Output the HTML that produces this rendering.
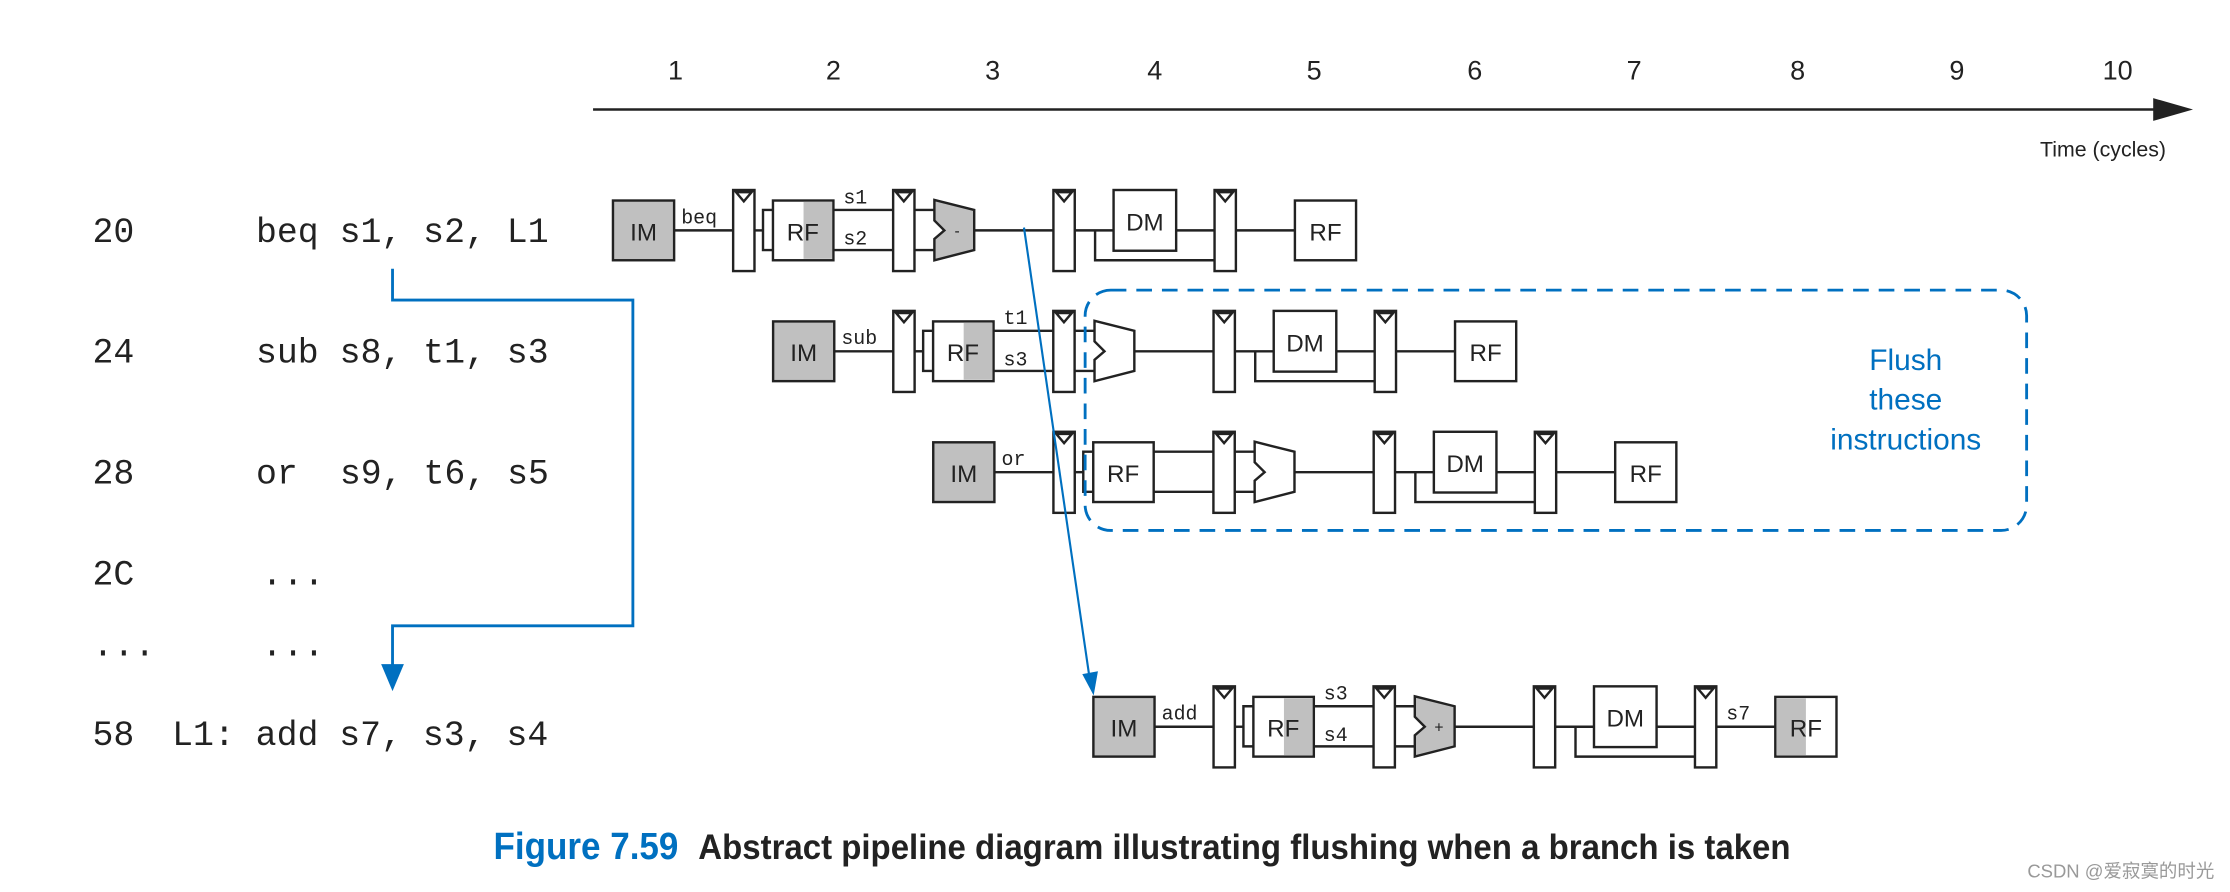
<!DOCTYPE html>
<html><head><meta charset="utf-8"><style>
html,body{margin:0;padding:0;background:#fff;}
svg{display:block;}
.m{font-family:"Liberation Mono",monospace;fill:#222;white-space:pre;}
.s{font-family:"Liberation Sans",sans-serif;fill:#222;}
.k{stroke:#222;stroke-width:1.7;fill:none;}
.w{stroke:#222;stroke-width:1.7;fill:#fff;}
.g{stroke:#222;stroke-width:1.7;fill:#c0c0c0;}
</style></head><body>
<svg width="2230" height="892" viewBox="0 0 1568 627.2" preserveAspectRatio="none" xmlns="http://www.w3.org/2000/svg">
<defs>
<g id="reg"><rect x="0" y="0" width="15" height="57" class="w"/><polygon points="2,1.5 13,1.5 7.5,8" class="w"/></g>
</defs>
<line x1="417" y1="77" x2="1520" y2="77" stroke="#222" stroke-width="1.8"/>
<polygon points="1514,69 1542,77 1514,85" fill="#222"/>
<g class="s" font-size="19" text-anchor="middle">
<text x="475" y="56">1</text><text x="586" y="56">2</text><text x="698" y="56">3</text><text x="812" y="56">4</text><text x="924" y="56">5</text><text x="1037" y="56">6</text><text x="1149" y="56">7</text><text x="1264" y="56">8</text><text x="1376" y="56">9</text><text x="1489" y="56">10</text>
</g>
<text x="1523" y="110" class="s" font-size="15" text-anchor="end">Time (cycles)</text>
<g class="m" font-size="24.5">
<text x="65" y="170">20</text><text x="180" y="170">beq s1, s2, L1</text>
<text x="65" y="255">24</text><text x="180" y="255">sub s8, t1, s3</text>
<text x="65" y="340">28</text><text x="180" y="340">or</text><text x="239" y="340">s9, t6, s5</text>
<text x="65" y="411">2C</text><text x="184" y="411">...</text>
<text x="65" y="461">...</text><text x="184" y="461">...</text>
<text x="65" y="524">58</text><text x="121" y="524">L1: add s7, s3, s4</text>
</g>
<g id="r1">
<rect x="431" y="141" width="43" height="42" class="g"/><text x="452.5" y="169" class="s" font-size="17" text-anchor="middle">IM</text>
<line x1="474" y1="162" x2="515.5" y2="162" class="k"/>
<use href="#reg" x="515.5" y="133.6"/>
<line x1="530.5" y1="162" x2="536.5" y2="162" class="k"/>
<polyline points="543.5,147.6 536.5,147.6 536.5,175.8 543.5,175.8" class="k"/>
<rect x="543.5" y="141" width="42.5" height="42" class="w"/><rect x="565" y="142" width="20" height="40" fill="#c0c0c0"/>
<text x="564.5" y="169" class="s" font-size="17" text-anchor="middle">RF</text>
<line x1="586" y1="147.6" x2="628" y2="147.6" class="k"/><line x1="586" y1="175.8" x2="628" y2="175.8" class="k"/>
<use href="#reg" x="628" y="133.6"/>
<line x1="643" y1="147.6" x2="657" y2="147.6" class="k"/><line x1="643" y1="175.8" x2="657" y2="175.8" class="k"/>
<polygon points="657,140.6 685,147.6 685,175.8 657,183 657,168 664,162 657,155" class="g"/>
<text x="673" y="166" class="s" font-size="11" text-anchor="middle">-</text>
<line x1="685" y1="162" x2="740.7" y2="162" class="k"/>
<use href="#reg" x="740.7" y="133.6"/>
<line x1="755.7" y1="162" x2="783" y2="162" class="k"/><polyline points="770,162 770,183 854,183" class="k"/>
<rect x="783" y="133.6" width="44" height="42.7" class="w"/><text x="805" y="162" class="s" font-size="17" text-anchor="middle">DM</text>
<line x1="827" y1="162" x2="854" y2="162" class="k"/>
<use href="#reg" x="854" y="133.6"/>
<line x1="869" y1="162" x2="910.5" y2="162" class="k"/>
<rect x="910.5" y="141" width="43" height="42" class="w"/><text x="932" y="169" class="s" font-size="17" text-anchor="middle">RF</text>
<g class="m" font-size="14"><text x="479" y="157">beq</text><text x="593" y="143">s1</text><text x="593" y="172">s2</text></g>
</g>
<g transform="translate(112.6,85)">
<rect x="431" y="141" width="43" height="42" class="g"/><text x="452.5" y="169" class="s" font-size="17" text-anchor="middle">IM</text>
<line x1="474" y1="162" x2="515.5" y2="162" class="k"/>
<use href="#reg" x="515.5" y="133.6"/>
<line x1="530.5" y1="162" x2="536.5" y2="162" class="k"/>
<polyline points="543.5,147.6 536.5,147.6 536.5,175.8 543.5,175.8" class="k"/>
<rect x="543.5" y="141" width="42.5" height="42" class="w"/><rect x="565" y="142" width="20" height="40" fill="#c0c0c0"/>
<text x="564.5" y="169" class="s" font-size="17" text-anchor="middle">RF</text>
<line x1="586" y1="147.6" x2="628" y2="147.6" class="k"/><line x1="586" y1="175.8" x2="628" y2="175.8" class="k"/>
<use href="#reg" x="628" y="133.6"/>
<line x1="643" y1="147.6" x2="657" y2="147.6" class="k"/><line x1="643" y1="175.8" x2="657" y2="175.8" class="k"/>
<polygon points="657,140.6 685,147.6 685,175.8 657,183 657,168 664,162 657,155" class="w"/>
<line x1="685" y1="162" x2="740.7" y2="162" class="k"/>
<use href="#reg" x="740.7" y="133.6"/>
<line x1="755.7" y1="162" x2="783" y2="162" class="k"/><polyline points="770,162 770,183 854,183" class="k"/>
<rect x="783" y="133.6" width="44" height="42.7" class="w"/><text x="805" y="162" class="s" font-size="17" text-anchor="middle">DM</text>
<line x1="827" y1="162" x2="854" y2="162" class="k"/>
<use href="#reg" x="854" y="133.6"/>
<line x1="869" y1="162" x2="910.5" y2="162" class="k"/>
<rect x="910.5" y="141" width="43" height="42" class="w"/><text x="932" y="169" class="s" font-size="17" text-anchor="middle">RF</text>
<g class="m" font-size="14"><text x="479" y="157">sub</text><text x="593" y="143">t1</text><text x="593" y="172">s3</text></g>
</g>
<g transform="translate(225.2,170)">
<rect x="431" y="141" width="43" height="42" class="g"/><text x="452.5" y="169" class="s" font-size="17" text-anchor="middle">IM</text>
<line x1="474" y1="162" x2="515.5" y2="162" class="k"/>
<use href="#reg" x="515.5" y="133.6"/>
<line x1="530.5" y1="162" x2="536.5" y2="162" class="k"/>
<polyline points="543.5,147.6 536.5,147.6 536.5,175.8 543.5,175.8" class="k"/>
<rect x="543.5" y="141" width="42.5" height="42" class="w"/>
<text x="564.5" y="169" class="s" font-size="17" text-anchor="middle">RF</text>
<line x1="586" y1="147.6" x2="628" y2="147.6" class="k"/><line x1="586" y1="175.8" x2="628" y2="175.8" class="k"/>
<use href="#reg" x="628" y="133.6"/>
<line x1="643" y1="147.6" x2="657" y2="147.6" class="k"/><line x1="643" y1="175.8" x2="657" y2="175.8" class="k"/>
<polygon points="657,140.6 685,147.6 685,175.8 657,183 657,168 664,162 657,155" class="w"/>
<line x1="685" y1="162" x2="740.7" y2="162" class="k"/>
<use href="#reg" x="740.7" y="133.6"/>
<line x1="755.7" y1="162" x2="783" y2="162" class="k"/><polyline points="770,162 770,183 854,183" class="k"/>
<rect x="783" y="133.6" width="44" height="42.7" class="w"/><text x="805" y="162" class="s" font-size="17" text-anchor="middle">DM</text>
<line x1="827" y1="162" x2="854" y2="162" class="k"/>
<use href="#reg" x="854" y="133.6"/>
<line x1="869" y1="162" x2="910.5" y2="162" class="k"/>
<rect x="910.5" y="141" width="43" height="42" class="w"/><text x="932" y="169" class="s" font-size="17" text-anchor="middle">RF</text>
<g class="m" font-size="14"><text x="479" y="157">or</text></g>
</g>
<g transform="translate(337.8,349)">
<rect x="431" y="141" width="43" height="42" class="g"/><text x="452.5" y="169" class="s" font-size="17" text-anchor="middle">IM</text>
<line x1="474" y1="162" x2="515.5" y2="162" class="k"/>
<use href="#reg" x="515.5" y="133.6"/>
<line x1="530.5" y1="162" x2="536.5" y2="162" class="k"/>
<polyline points="543.5,147.6 536.5,147.6 536.5,175.8 543.5,175.8" class="k"/>
<rect x="543.5" y="141" width="42.5" height="42" class="w"/><rect x="565" y="142" width="20" height="40" fill="#c0c0c0"/>
<text x="564.5" y="169" class="s" font-size="17" text-anchor="middle">RF</text>
<line x1="586" y1="147.6" x2="628" y2="147.6" class="k"/><line x1="586" y1="175.8" x2="628" y2="175.8" class="k"/>
<use href="#reg" x="628" y="133.6"/>
<line x1="643" y1="147.6" x2="657" y2="147.6" class="k"/><line x1="643" y1="175.8" x2="657" y2="175.8" class="k"/>
<polygon points="657,140.6 685,147.6 685,175.8 657,183 657,168 664,162 657,155" class="g"/>
<text x="674" y="166" class="s" font-size="11" text-anchor="middle">+</text>
<line x1="685" y1="162" x2="740.7" y2="162" class="k"/>
<use href="#reg" x="740.7" y="133.6"/>
<line x1="755.7" y1="162" x2="783" y2="162" class="k"/><polyline points="770,162 770,183 854,183" class="k"/>
<rect x="783" y="133.6" width="44" height="42.7" class="w"/><text x="805" y="162" class="s" font-size="17" text-anchor="middle">DM</text>
<line x1="827" y1="162" x2="854" y2="162" class="k"/>
<use href="#reg" x="854" y="133.6"/>
<line x1="869" y1="162" x2="910.5" y2="162" class="k"/>
<rect x="910.5" y="141" width="43" height="42" class="w"/><rect x="911.5" y="142" width="20.5" height="40" fill="#c0c0c0"/>
<text x="932" y="169" class="s" font-size="17" text-anchor="middle">RF</text>
<g class="m" font-size="14"><text x="479" y="157">add</text><text x="593" y="143">s3</text><text x="593" y="172">s4</text><text x="876" y="157">s7</text></g>
</g>
<polyline points="276,189 276,211 445,211 445,440 276,440 276,470" fill="none" stroke="#0070c0" stroke-width="2"/>
<polygon points="268,467 284,467 276,486" fill="#0070c0"/>
<line x1="720" y1="160" x2="766" y2="476" stroke="#0070c0" stroke-width="1.5"/>
<polygon points="761,474 772,472 769,489" fill="#0070c0"/>
<rect x="763" y="204" width="662" height="169" rx="18" ry="18" fill="none" stroke="#0070c0" stroke-width="2" stroke-dasharray="11,7"/>
<g font-family="Liberation Sans, sans-serif" font-size="21" fill="#0070c0" text-anchor="middle">
<text x="1340" y="260">Flush</text><text x="1340" y="288">these</text><text x="1340" y="316">instructions</text>
</g>
<text x="347" y="604" font-family="'Liberation Sans Narrow','Liberation Sans',sans-serif" font-weight="bold" font-size="27" fill="#0070c0" textLength="130" lengthAdjust="spacingAndGlyphs">Figure 7.59</text>
<text x="491" y="604" font-family="'Liberation Sans Narrow','Liberation Sans',sans-serif" font-weight="bold" font-size="25" fill="#222" textLength="768" lengthAdjust="spacingAndGlyphs">Abstract pipeline diagram illustrating flushing when a branch is taken</text>
<text x="1557" y="617" font-family="'Liberation Sans','Noto Sans CJK SC',sans-serif" font-size="13" fill="#999" text-anchor="end">CSDN @爱寂寞的时光</text>
</svg>
</body></html>
